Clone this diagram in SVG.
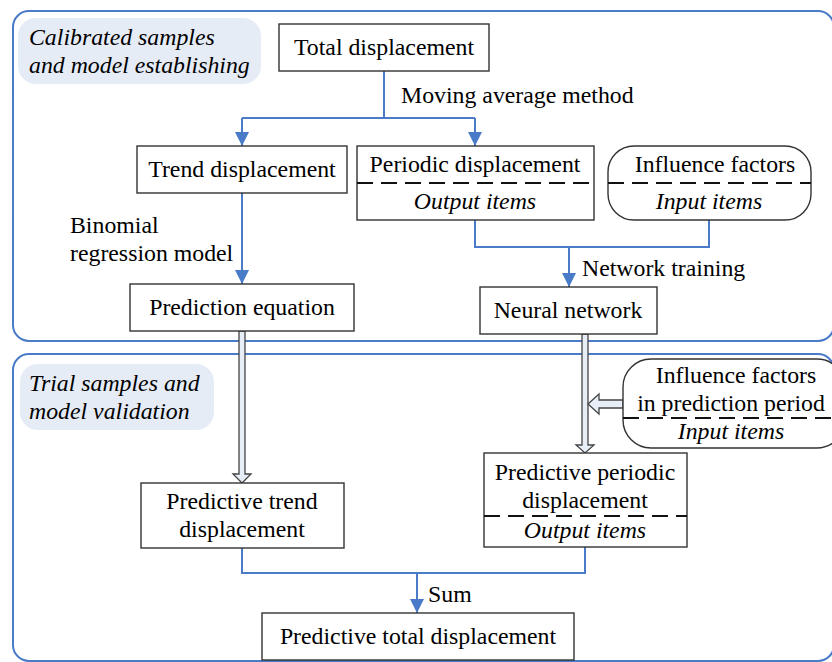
<svg xmlns="http://www.w3.org/2000/svg" width="832" height="662" viewBox="0 0 832 662">
<style>
.panel{fill:none;stroke:#4a7bc8;stroke-width:2}
.tag{fill:#e6ecf6;stroke:none}
.box{fill:#fff;stroke:#333;stroke-width:1.4}
.dash{stroke:#111;stroke-width:2;stroke-dasharray:16 8;fill:none}
.conn{fill:none;stroke:#4a7bc8;stroke-width:2}
.hollow{fill:#e8eef8;stroke:#444;stroke-width:1.3}
text{font-size:23.8px;fill:#000}
.it{font-style:italic}
.c{text-anchor:middle}
</style>
<defs>
<marker id="ah" markerUnits="userSpaceOnUse" markerWidth="14" markerHeight="14" refX="14" refY="7" orient="auto">
<path d="M0,0 L14,7 L0,14 z" fill="#4a7bc8"/>
</marker>
</defs>
<g font-family="Liberation Serif, DejaVu Serif, serif">
<rect class="panel" x="13" y="11" width="821" height="330" rx="16"/>
<rect class="panel" x="13" y="354" width="821" height="307" rx="16"/>
<g id="tag1"><rect class="tag" x="18" y="18" width="243" height="66" rx="18"/>
<text class="it" x="29" y="45">Calibrated samples</text>
<text class="it" x="29" y="73">and model establishing</text></g>
<g id="tag2"><rect class="tag" x="20" y="364" width="194" height="66" rx="18"/>
<text class="it" x="29" y="391">Trial samples and</text>
<text class="it" x="29" y="419">model validation</text></g>
<g id="connectors">
<path class="conn" d="M384,71 V118"/>
<path class="conn" d="M242,118 H475"/>
<path class="conn" d="M242,118 V146" marker-end="url(#ah)"/>
<path class="conn" d="M475,118 V146" marker-end="url(#ah)"/>
<path class="conn" d="M242,193 V284" marker-end="url(#ah)"/>
<path class="conn" d="M475,220 V247 H709 V220"/>
<path class="conn" d="M569,247 V287" marker-end="url(#ah)"/>
<path class="conn" d="M242,548 V573 H585 V547"/>
<path class="conn" d="M417,573 V613" marker-end="url(#ah)"/>
<path class="hollow" d="M239,331 V474 H233 L242,483 L251,474 H245 V331 Z"/>
<path class="hollow" d="M582,334 V445 H576 L585,453 L594,445 H588 V334 Z"/>
<path class="hollow" d="M623,400 H599 V394 L588,404 L599,414 V408 H623 Z"/>
</g>
<text x="401" y="103">Moving average method</text>
<text x="70" y="233">Binomial</text>
<text x="70" y="261">regression model</text>
<text x="582" y="276">Network training</text>
<text x="428" y="602">Sum</text>
<g id="total"><rect class="box" x="279" y="24" width="210" height="47"/>
<text class="c" x="384" y="55">Total displacement</text></g>
<g id="trend"><rect class="box" x="137" y="146" width="210" height="47"/>
<text class="c" x="242" y="177">Trend displacement</text></g>
<g id="periodic"><rect class="box" x="357" y="146" width="237" height="74"/>
<line class="dash" x1="357" y1="183" x2="594" y2="183"/>
<text class="c" x="475" y="172">Periodic displacement</text>
<text class="c it" x="475" y="209">Output items</text></g>
<g id="influence"><rect class="box" x="608" y="146" width="203" height="74" rx="26"/>
<line class="dash" x1="608" y1="183" x2="811" y2="183"/>
<text class="c" x="715" y="172">Influence factors</text>
<text class="c it" x="709" y="209">Input items</text></g>
<g id="prediction"><rect class="box" x="130" y="284" width="224" height="47"/>
<text class="c" x="242" y="315">Prediction equation</text></g>
<g id="neural"><rect class="box" x="480" y="287" width="177" height="47"/>
<text class="c" x="568" y="318">Neural network</text></g>
<g id="influence2"><rect class="box" x="623" y="359" width="222" height="89" rx="28"/>
<line class="dash" x1="623" y1="418" x2="832" y2="418"/>
<text class="c" x="736" y="383">Influence factors</text>
<text class="c" x="731" y="411">in prediction period</text>
<text class="c it" x="731" y="439">Input items</text></g>
<g id="ptrend"><rect class="box" x="141" y="483" width="203" height="65"/>
<text class="c" x="242" y="509">Predictive trend</text>
<text class="c" x="242" y="537">displacement</text></g>
<g id="pperiodic"><rect class="box" x="484" y="453" width="203" height="94"/>
<line class="dash" x1="484" y1="516" x2="687" y2="516"/>
<text class="c" x="585" y="480">Predictive periodic</text>
<text class="c" x="585" y="508">displacement</text>
<text class="c it" x="585" y="538">Output items</text></g>
<g id="ptotal"><rect class="box" x="262" y="613" width="312" height="47"/>
<text class="c" x="418" y="644">Predictive total displacement</text></g>
</g>
</svg>
